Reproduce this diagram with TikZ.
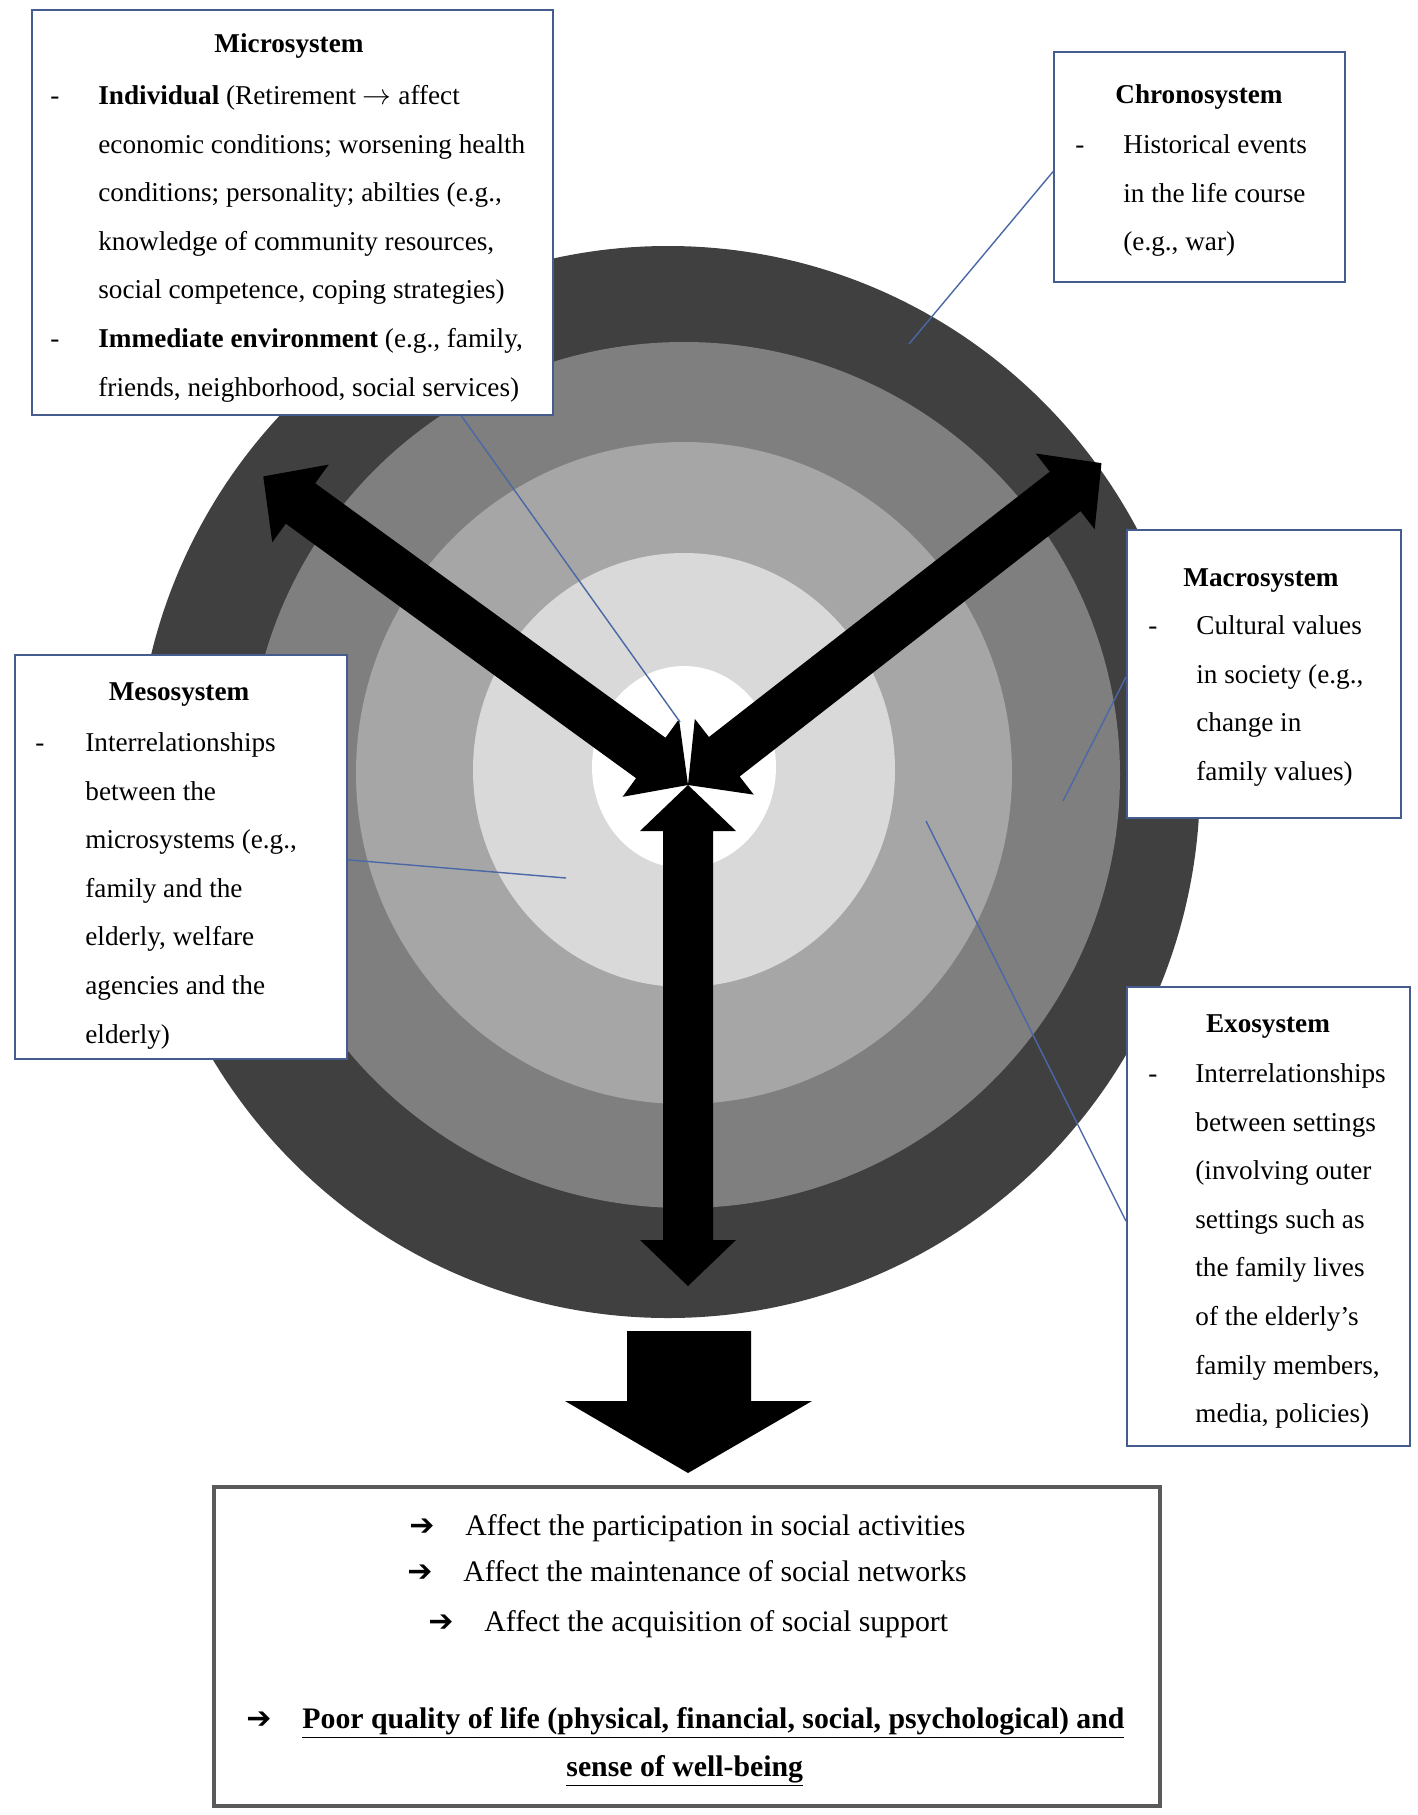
\documentclass[tikz,border=0pt]{standalone}
\usepackage{fontspec}
\setmainfont{Liberation Serif}
\newfontfamily\symfont{DejaVu Sans}
\usetikzlibrary{calc}
\definecolor{ringA}{HTML}{404040}
\definecolor{ringB}{HTML}{7F7F7F}
\definecolor{ringC}{HTML}{A6A6A6}
\definecolor{ringD}{HTML}{D9D9D9}
\definecolor{boxblue}{HTML}{465C8E}
\definecolor{lineblue}{HTML}{4A68A6}
\definecolor{botgray}{HTML}{5A5A5A}
\newcommand\bodyfont{\fontsize{13.6}{24.3}\selectfont}
\newcommand\botfont{\fontsize{14.9}{24.3}\selectfont}
\newcommand\barrowsym{\makebox[28pt][l]{{\symfont\bfseries\fontsize{15}{16}\selectfont ➔}}}
\newcommand\dblarrow[3]{%
  \begin{scope}[shift={#1},rotate=#2]
    \fill[black] (0,0) -- (46,48) -- (46,25) -- ({#3-46},25) -- ({#3-46},48) -- (#3,0)
      -- ({#3-46},-48) -- ({#3-46},-25) -- (46,-25) -- (46,-48) -- cycle;
  \end{scope}}
\begin{document}
\begin{tikzpicture}[x=0.5pt,y=-0.5pt,
  box/.style={draw=boxblue, line width=1pt, fill=white, anchor=north west, inner sep=0pt},
  ttl/.style={anchor=base, font=\bodyfont\bfseries, inner sep=0pt},
  body/.style={anchor=north west, font=\bodyfont, inner sep=0pt},
  leader/.style={draw=lineblue, line width=0.7pt},
  bline/.style={anchor=base west, font=\botfont, inner sep=0pt}]
\useasboundingbox (0,0) rectangle (1418,1815);
\fill[white] (0,0) rectangle (1418,1815);
% concentric rings
\fill[ringA] (668,782) ellipse [x radius=532, y radius=536];
\fill[ringB] (684,775) ellipse [x radius=436, y radius=433];
\fill[ringC] (684,773) ellipse [x radius=328, y radius=331];
\fill[ringD] (684,770) ellipse [x radius=211, y radius=217];
\fill[white] (684,767) ellipse [x radius=92, y radius=101];
% three double arrows
\coordinate (ctr) at (688,785);
\dblarrow{(ctr)}{144}{525}
\dblarrow{(ctr)}{37.9}{524}
\dblarrow{(ctr)}{-90}{501}
% big down arrow
\fill[black] (627,1331) -- (751,1331) -- (751,1401) -- (812,1401) -- (688,1473)
  -- (565,1401) -- (627,1401) -- cycle;
% boxes
\node[box, minimum width=260.5pt, minimum height=202.5pt] (micro) at (31,9) {};
\node[box, minimum width=145.5pt, minimum height=115pt] (chrono) at (1053,51) {};
\node[box, minimum width=137pt, minimum height=144pt] (macro) at (1126,529) {};
\node[box, minimum width=166pt, minimum height=202pt] (meso) at (14,654) {};
\node[box, minimum width=141.5pt, minimum height=229.5pt] (exo) at (1126,986) {};
\node[box, draw=botgray, line width=2pt, minimum width=473pt, minimum height=159.5pt] (result) at (212,1485) {};
% box texts
\node[ttl] (micro-t) at (289,53) {Microsystem};
\node[body] (micro-b) at (50,70) {\begin{tabular}{@{}p{24pt}@{}l@{}}
-&\textbf{Individual} (Retirement $\rightarrow$ affect\\
&economic conditions; worsening health\\
&conditions; personality; abilties (e.g.,\\
&knowledge of community resources,\\
&social competence, coping strategies)\\
-&\textbf{Immediate environment} (e.g., family,\\
&friends, neighborhood, social services)
\end{tabular}};
\node[ttl] (chrono-t) at (1199,103) {Chronosystem};
\node[body] (chrono-b) at (1075,119) {\begin{tabular}{@{}p{24pt}@{}l@{}}
-&Historical events\\
&in the life course\\
&(e.g., war)
\end{tabular}};
\node[ttl] (macro-t) at (1261,586) {Macrosystem};
\node[body] (macro-b) at (1148,600) {\begin{tabular}{@{}p{24pt}@{}l@{}}
-&Cultural values\\
&in society (e.g.,\\
&change in\\
&family values)
\end{tabular}};
\node[ttl] (meso-t) at (179,700) {Mesosystem};
\node[body] (meso-b) at (35,717) {\begin{tabular}{@{}p{25pt}@{}l@{}}
-&Interrelationships\\
&between the\\
&microsystems (e.g.,\\
&family and the\\
&elderly, welfare\\
&agencies and the\\
&elderly)
\end{tabular}};
\node[ttl] (exo-t) at (1268,1032) {Exosystem};
\node[body] (exo-b) at (1148,1048) {\begin{tabular}{@{}p{23.5pt}@{}l@{}}
-&Interrelationships\\
&between settings\\
&(involving outer\\
&settings such as\\
&the family lives\\
&of the elderly's\\
&family members,\\
&media, policies)
\end{tabular}};
% result texts
\node[bline] (b1) at (409,1535) {\barrowsym Affect the participation in social activities};
\node[bline] (b2) at (407,1581) {\barrowsym Affect the maintenance of social networks};
\node[bline] (b3) at (428,1631) {\barrowsym Affect the acquisition of social support};
\node[bline] (b4) at (246,1728) {\barrowsym\textbf{\underline{Poor quality of life (physical, financial, social, psychological) and}}};
\node[bline] (b5) at (566,1776) {\textbf{\underline{sense of well-being}}};
% leader lines
\coordinate (p-chrono) at (909,344);
\coordinate (p-micro) at (680,722);
\coordinate (p-meso) at (566,878);
\coordinate (p-macro) at (1063,801);
\coordinate (p-exo) at (926,821);
\draw[leader] ($(chrono.north west)!0.52!(chrono.south west)$) -- (p-chrono);
\draw[leader] ($(micro.south west)!0.823!(micro.south east)$) -- (p-micro);
\draw[leader] ($(meso.north east)!0.507!(meso.south east)$) -- (p-meso);
\draw[leader] ($(macro.north west)!0.51!(macro.south west)$) -- (p-macro);
\draw[leader] ($(exo.north west)!0.51!(exo.south west)$) -- (p-exo);
\end{tikzpicture}
\end{document}
